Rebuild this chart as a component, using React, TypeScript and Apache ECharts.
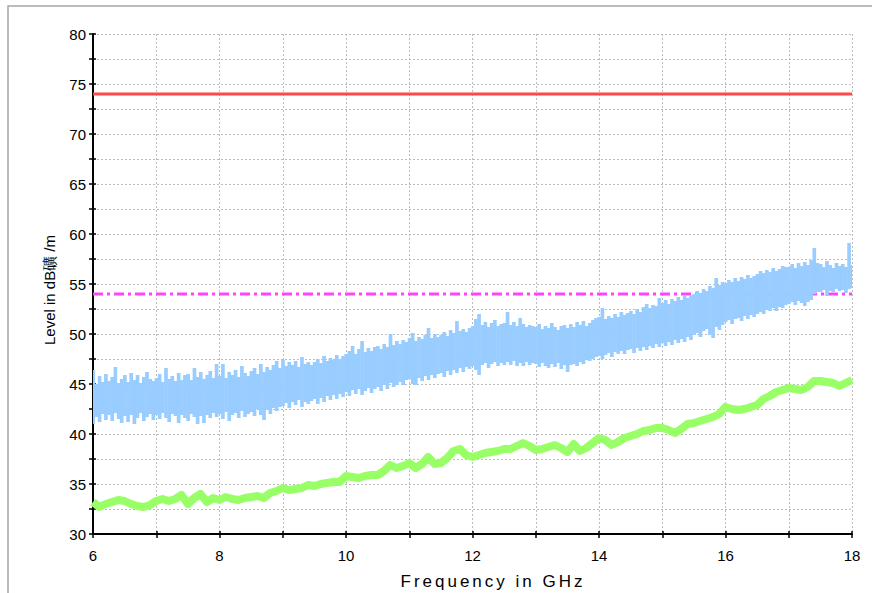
import React, { useEffect, useRef } from "react";
import * as echarts from "echarts";

const FONT = "'Liberation Sans', Arial, sans-serif";

const X_MIN = 6;
const X_MAX = 18;
const Y_MIN = 30;
const Y_MAX = 80;

const LIMIT_PEAK = 74;
const LIMIT_AVG = 54;

const BLUE_START = 6;
const BLUE_STEP = 0.05;
// peak trace: lower and upper edge of the noise band, one value per 0.05 GHz from 6 GHz
const blueLow = [
  41.0, 41.7, 41.2, 42.0, 41.4, 41.9, 41.3, 42.1, 41.5, 41.1,
  41.8, 41.2, 41.9, 41.0, 41.6, 42.1, 41.3, 41.7, 42.0, 41.4,
  41.9, 41.5, 42.1, 41.6, 41.2, 42.0, 41.8, 41.1, 41.9, 41.6,
  41.3, 42.0, 41.7, 41.0, 41.8, 41.1, 41.9, 41.6, 42.1, 41.7,
  42.0, 41.5, 42.2, 41.3, 41.9, 42.1, 41.6, 42.3, 41.7, 42.0,
  42.2, 41.8, 42.5, 41.9, 41.4, 42.4, 42.0, 42.6, 42.3, 42.7,
  42.8, 43.1, 42.6, 43.2, 42.9, 43.4, 42.7, 43.2, 43.0, 43.3,
  43.5, 43.0, 43.6, 43.2, 43.8, 43.4, 43.9, 43.5, 44.0, 43.7,
  44.2, 43.8, 44.4, 44.0, 44.5, 43.9, 44.3, 44.6, 44.1, 44.5,
  44.7, 44.3, 44.9, 44.5, 45.1, 44.7, 44.9, 45.2, 44.9, 45.4,
  45.5, 45.0, 44.9, 45.6, 45.3, 45.8, 45.4, 45.9, 45.6, 46.0,
  46.1, 45.7, 46.3, 45.9, 46.4, 46.1, 46.6, 46.2, 46.7, 46.5,
  46.8, 46.4, 45.9, 46.9, 47.1, 46.6, 47.0, 47.2, 46.8, 47.1,
  46.9, 47.2, 46.9, 47.3, 46.8, 47.1, 46.8, 47.2, 46.9, 47.1,
  47.0, 46.7, 47.1, 46.8, 46.6, 47.0, 46.7, 47.1, 46.5, 46.9,
  46.2, 46.9, 47.0, 46.8, 47.2, 47.0, 47.4, 47.3, 47.5, 47.7,
  47.8, 47.5, 47.9, 48.1, 47.7, 48.2, 48.0, 48.3, 48.0, 48.4,
  48.5, 48.1, 48.6, 48.3, 48.7, 48.4, 48.8, 48.6, 49.0, 48.7,
  49.1, 48.8, 49.2, 48.9, 49.4, 49.1, 49.5, 49.2, 49.7, 49.4,
  49.9, 50.1, 49.7, 50.3, 50.5, 49.9, 49.6, 50.7, 50.4, 50.9,
  51.2, 51.4, 51.0, 51.5, 51.6, 51.3, 51.8, 51.5, 51.9, 51.7,
  52.0, 52.2, 52.0, 52.4, 52.3, 52.6, 52.3, 52.7, 52.6, 52.9,
  53.0, 53.2, 52.9, 53.3, 53.1, 52.8, 53.2, 53.4, 54.0, 54.2,
  54.2, 54.4, 53.8, 54.3, 54.2, 54.5, 54.3, 54.4, 54.1, 54.5,
  54.6,
];
const blueHigh = [
  46.4, 45.0, 45.8, 45.2, 46.0, 45.3, 45.7, 46.7, 45.1, 45.5,
  45.9, 45.2, 46.1, 45.4, 45.9, 45.1, 45.7, 46.2, 45.5, 45.3,
  45.6, 46.0, 45.2, 46.6, 45.5, 45.8, 45.3, 46.1, 45.4, 45.9,
  46.0, 45.4, 46.6, 45.7, 46.2, 45.5, 45.9, 46.3, 45.6, 47.0,
  45.8, 47.0, 45.6, 46.2, 45.9, 46.4, 45.7, 46.8, 46.1, 45.8,
  46.3, 46.6, 46.0, 47.0, 46.2, 46.7, 46.4, 46.9, 47.3, 46.6,
  47.4, 46.8, 47.2, 46.9, 47.3, 46.7, 47.7, 47.0, 47.2, 46.9,
  47.2, 47.5, 47.1, 47.8, 47.3, 47.6, 47.4, 47.9, 47.5, 47.8,
  48.0, 48.3, 48.8, 48.0, 48.5, 49.3, 48.2, 48.6, 48.3, 48.7,
  48.8, 48.5, 49.0, 48.7, 50.0, 48.9, 49.3, 49.0, 49.4, 49.2,
  49.6, 50.1, 49.3, 49.7, 49.5, 49.9, 50.6, 49.6, 50.0, 49.7,
  49.9, 50.2, 49.8, 50.4, 50.1, 51.3, 50.3, 50.5, 50.2, 50.6,
  50.8, 51.5, 52.0, 50.9, 51.2, 50.7, 51.1, 51.4, 50.8, 51.0,
  51.1, 52.2, 50.9, 51.2, 50.8, 51.6, 51.0, 50.7, 50.9, 50.8,
  50.7, 51.0, 50.5, 50.8, 50.6, 51.1, 50.7, 50.4, 50.8, 50.9,
  50.6, 51.0, 50.7, 51.2, 50.9, 51.3, 50.8, 51.1, 51.4, 51.6,
  51.7, 52.6, 51.5, 51.8, 51.6, 52.0, 51.7, 52.2, 51.9, 52.1,
  52.3, 52.0, 52.5, 52.2, 52.7, 53.0, 52.6, 52.9, 52.8, 53.6,
  53.1, 53.4, 53.0, 53.5, 53.3, 53.7, 53.4, 53.8, 53.6, 53.9,
  54.0, 54.3, 54.1, 54.5, 54.3, 54.8, 54.6, 55.6, 54.9, 55.2,
  55.1, 55.4, 55.2, 55.6, 55.3, 55.7, 55.5, 55.9, 55.6, 55.8,
  56.0, 56.3, 56.1, 56.4, 56.2, 56.6, 56.3, 56.5, 56.8, 56.7,
  56.7, 57.0, 56.6, 57.1, 56.8, 57.2, 56.9, 57.4, 58.6, 57.1,
  57.0, 56.7, 57.3, 56.9, 56.6, 57.1, 56.8, 57.0, 56.7, 59.1,
  56.9,
];

const GREEN_START = 6;
const GREEN_STEP = 0.1;
// average trace, one value per 0.1 GHz from 6 GHz
const greenLevel = [
  33.2, 32.7, 33.0, 33.2, 33.4, 33.3, 33.0, 32.8, 32.7, 32.9,
  33.3, 33.5, 33.3, 33.5, 33.9, 33.0, 33.6, 34.0, 33.2, 33.6,
  33.4, 33.7, 33.5, 33.4, 33.6, 33.7, 33.8, 33.6, 34.1, 34.3,
  34.6, 34.4, 34.5, 34.6, 34.9, 34.8, 35.0, 35.1, 35.2, 35.2,
  35.8, 35.7, 35.6, 35.8, 35.9, 35.9, 36.3, 36.9, 36.6, 36.8,
  37.1, 36.6, 37.0, 37.7, 37.0, 37.1, 37.6, 38.3, 38.5, 37.9,
  37.7, 37.9, 38.1, 38.2, 38.3, 38.5, 38.5, 38.8, 39.1, 38.8,
  38.4, 38.5, 38.7, 38.9, 38.6, 38.2, 39.0, 38.3, 38.6, 39.1,
  39.6, 39.4, 38.9, 39.2, 39.6, 39.8, 40.0, 40.3, 40.4, 40.6,
  40.6, 40.4, 40.1, 40.5, 41.0, 41.1, 41.3, 41.5, 41.7, 42.0,
  42.7, 42.5, 42.4, 42.5, 42.7, 42.9, 43.5, 43.8, 44.2, 44.4,
  44.6, 44.5, 44.4, 44.7, 45.3, 45.3, 45.2, 45.1, 44.8, 45.1,
  45.4,
];

const X_TITLE = "Frequency in GHz";
const Y_TITLE = "Level in dB礦 /m";

export default function App() {
  const ref = useRef<HTMLDivElement>(null);

  useEffect(() => {
    if (!ref.current) return;
    const chart = echarts.init(ref.current, null, { renderer: "svg" });

    const blueData = blueLow.map((lo, i) => [
      BLUE_START + i * BLUE_STEP,
      lo,
      blueHigh[i],
    ]);
    const greenData = greenLevel.map((v, i) => [GREEN_START + i * GREEN_STEP, v]);

    const gridLine = { color: "#bdbdbd", width: 1, type: [2, 2] as number[] };
    const tickStyle = { color: "#000", width: 1.5 };

    const option: any = {
      animation: false,
      backgroundColor: "#ffffff",
      textStyle: { fontFamily: FONT },
      grid: { left: 93, right: 20, top: 34, bottom: 59, containLabel: false },
      graphic: [
        {
          type: "rect",
          silent: true,
          z: -10,
          shape: { x: 8, y: 6, width: 900, height: 700 },
          style: { fill: "none", stroke: "#a6a6a6", lineWidth: 1.5 },
        },
        {
          type: "text",
          silent: true,
          x: 493,
          y: 581,
          style: {
            text: X_TITLE,
            fill: "#000",
            font: `17px ${FONT}`,
            align: "center",
            verticalAlign: "middle",
          },
        },
        {
          type: "text",
          silent: true,
          x: 49,
          y: 290,
          rotation: Math.PI / 2,
          style: {
            text: Y_TITLE,
            fill: "#000",
            font: `15px ${FONT}`,
            align: "center",
            verticalAlign: "middle",
          },
        },
      ],
      xAxis: [
        {
          type: "value",
          min: X_MIN,
          max: X_MAX,
          interval: 2,
          position: "bottom",
          axisLine: { show: true, onZero: false, lineStyle: { color: "#000", width: 2 } },
          axisTick: { show: true, length: 4, lineStyle: tickStyle },
          minorTick: { show: true, splitNumber: 2, length: 4, lineStyle: tickStyle },
          splitLine: { show: true, lineStyle: gridLine },
          minorSplitLine: { show: true, lineStyle: gridLine },
          axisLabel: { margin: 14, fontSize: 15, color: "#000", fontFamily: FONT },
        },
        {
          type: "value",
          min: X_MIN,
          max: X_MAX,
          interval: 2,
          position: "bottom",
          axisLine: { show: false, onZero: false },
          axisTick: { show: true, inside: true, length: 3, lineStyle: tickStyle },
          minorTick: { show: true, splitNumber: 2, length: 3, lineStyle: tickStyle },
          splitLine: { show: false },
          axisLabel: { show: false },
        },
      ],
      yAxis: [
        {
          type: "value",
          min: Y_MIN,
          max: Y_MAX,
          interval: 5,
          position: "left",
          axisLine: { show: true, onZero: false, lineStyle: { color: "#000", width: 2 } },
          axisTick: { show: true, length: 4, lineStyle: tickStyle },
          minorTick: { show: true, splitNumber: 2, length: 4, lineStyle: tickStyle },
          splitLine: { show: true, lineStyle: gridLine },
          minorSplitLine: { show: true, lineStyle: gridLine },
          axisLabel: { margin: 7, fontSize: 15, color: "#000", fontFamily: FONT },
        },
        {
          type: "value",
          min: Y_MIN,
          max: Y_MAX,
          interval: 5,
          position: "left",
          axisLine: { show: false, onZero: false },
          axisTick: { show: true, inside: true, length: 3, lineStyle: tickStyle },
          minorTick: { show: true, splitNumber: 2, length: 3, lineStyle: tickStyle },
          splitLine: { show: false },
          axisLabel: { show: false },
        },
      ],
      series: [
        {
          type: "line",
          name: "Peak limit",
          data: [[X_MIN, LIMIT_PEAK], [X_MAX, LIMIT_PEAK]],
          showSymbol: false,
          silent: true,
          z: 2,
          lineStyle: { color: "#ff4848", width: 3 },
        },
        {
          type: "line",
          name: "Average limit",
          data: [[X_MIN, LIMIT_AVG], [X_MAX, LIMIT_AVG]],
          showSymbol: false,
          silent: true,
          z: 2,
          lineStyle: { color: "#ff44ff", width: 3, type: [10, 4, 3, 4] },
        },
        {
          type: "custom",
          name: "Peak",
          data: blueData,
          silent: true,
          z: 3,
          encode: { x: 0, y: [1, 2] },
          renderItem: (params: any, api: any) => {
            const f = api.value(0);
            const lo = api.value(1);
            const hi = api.value(2);
            const a = api.coord([f - BLUE_STEP / 2, hi]);
            const b = api.coord([f + BLUE_STEP / 2, lo]);
            const cs = params.coordSys;
            const shape = echarts.graphic.clipRectByRect(
              { x: a[0], y: a[1], width: b[0] - a[0] + 0.5, height: b[1] - a[1] },
              { x: cs.x, y: cs.y, width: cs.width, height: cs.height }
            );
            if (!shape) return null;
            return { type: "rect", shape, style: { fill: "#99ccff" } };
          },
        },
        {
          type: "line",
          name: "Average",
          data: greenData,
          showSymbol: false,
          silent: true,
          z: 4,
          lineStyle: { color: "#99ff66", width: 8, join: "round" },
        },
      ],
    };

    const spaceTitle = () => {
      const root = ref.current;
      if (!root) return;
      root.querySelectorAll("text").forEach((t) => {
        if (t.textContent === X_TITLE) t.setAttribute("letter-spacing", "3");
      });
    };
    chart.on("finished", spaceTitle);
    chart.setOption(option);
    spaceTitle();

    return () => {
      chart.dispose();
    };
  }, []);

  return (
    <div
      ref={ref}
      style={{ position: "fixed", left: 0, top: 0, width: 872, height: 593 }}
    />
  );
}
